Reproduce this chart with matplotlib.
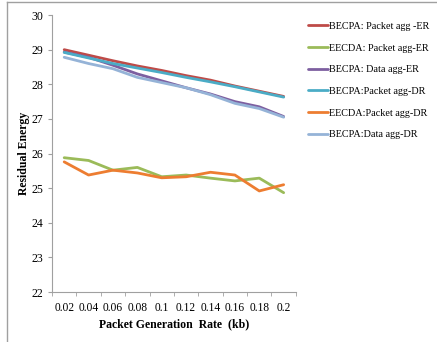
import matplotlib.pyplot as plt
from matplotlib.lines import Line2D
import numpy as np

plt.rcParams['font.family'] = ['Liberation Serif', 'DejaVu Serif']

rates = ['0.02', '0.04', '0.06', '0.08', '0.1', '0.12', '0.14', '0.16', '0.18', '0.2']

becpa_pkt_er = [29.0, 28.84, 28.68, 28.53, 28.4, 28.25, 28.12, 27.95, 27.8, 27.65]
eecda_pkt_er = [25.88, 25.8, 25.52, 25.6, 25.33, 25.38, 25.29, 25.21, 25.29, 24.87]
becpa_data_er = [28.93, 28.78, 28.55, 28.3, 28.1, 27.9, 27.72, 27.5, 27.35, 27.07]
becpa_pkt_dr = [28.92, 28.76, 28.6, 28.47, 28.34, 28.2, 28.07, 27.93, 27.78, 27.63]
eecda_pkt_dr = [25.76, 25.38, 25.52, 25.44, 25.3, 25.33, 25.46, 25.38, 24.92, 25.1]
becpa_data_dr = [28.78, 28.6, 28.45, 28.2, 28.05, 27.9, 27.7, 27.45, 27.3, 27.05]

series = [
    ('BECPA: Packet agg -ER', becpa_pkt_er, '#BE4B48'),
    ('EECDA: Packet agg-ER', eecda_pkt_er, '#9BBB59'),
    ('BECPA: Data agg-ER', becpa_data_er, '#7D5FA0'),
    ('BECPA:Packet agg-DR', becpa_pkt_dr, '#4BACC6'),
    ('EECDA:Packet agg-DR', eecda_pkt_dr, '#ED7D31'),
    ('BECPA:Data agg-DR', becpa_data_dr, '#95B3D7'),
]

fig = plt.figure(figsize=(4.37, 3.42), dpi=100)
ax = fig.add_axes([0.119, 0.146, 0.558, 0.81])

x = np.arange(len(rates))
for name, vals, col in series:
    ax.plot(x, vals, color=col, lw=2.0, label=name, solid_capstyle='round')

ax.set_xlim(-0.5, len(rates) - 0.5)
ax.set_ylim(22, 30)
ax.set_yticks(range(22, 31))
ax.set_xticks(x)
ax.set_xticklabels(rates)
ax.set_xticks(np.arange(-0.5, len(rates)), minor=True)
ax.tick_params(axis='x', which='major', length=0, pad=7, labelsize=8.3)
ax.tick_params(axis='x', which='minor', length=3, color='#A0A0A0')
ax.tick_params(axis='y', length=3, color='#A0A0A0', labelsize=8.5, pad=3)

for s in ['top', 'right']:
    ax.spines[s].set_visible(False)
for s in ['left', 'bottom']:
    ax.spines[s].set_color('#A0A0A0')

ax.set_ylabel('Residual Energy', fontweight='bold', fontsize=8.5, labelpad=1)
ax.set_xlabel('Packet Generation  Rate  (kb)', fontweight='bold', fontsize=8.5, labelpad=3)

ax.legend(loc='upper left', bbox_to_anchor=(0.705, 0.936), bbox_transform=fig.transFigure,
          frameon=False, fontsize=7.3, handlelength=2.0, handletextpad=0.05,
          labelspacing=1.24, borderaxespad=0, borderpad=0)

# outer chart frame (left and top edges)
fig.add_artist(Line2D([0.016, 0.016], [0.0, 0.994], transform=fig.transFigure, color='#A0A0A0', lw=1))
fig.add_artist(Line2D([0.016, 1.0], [0.994, 0.994], transform=fig.transFigure, color='#A0A0A0', lw=1))

fig.savefig('out.png', dpi=100)
